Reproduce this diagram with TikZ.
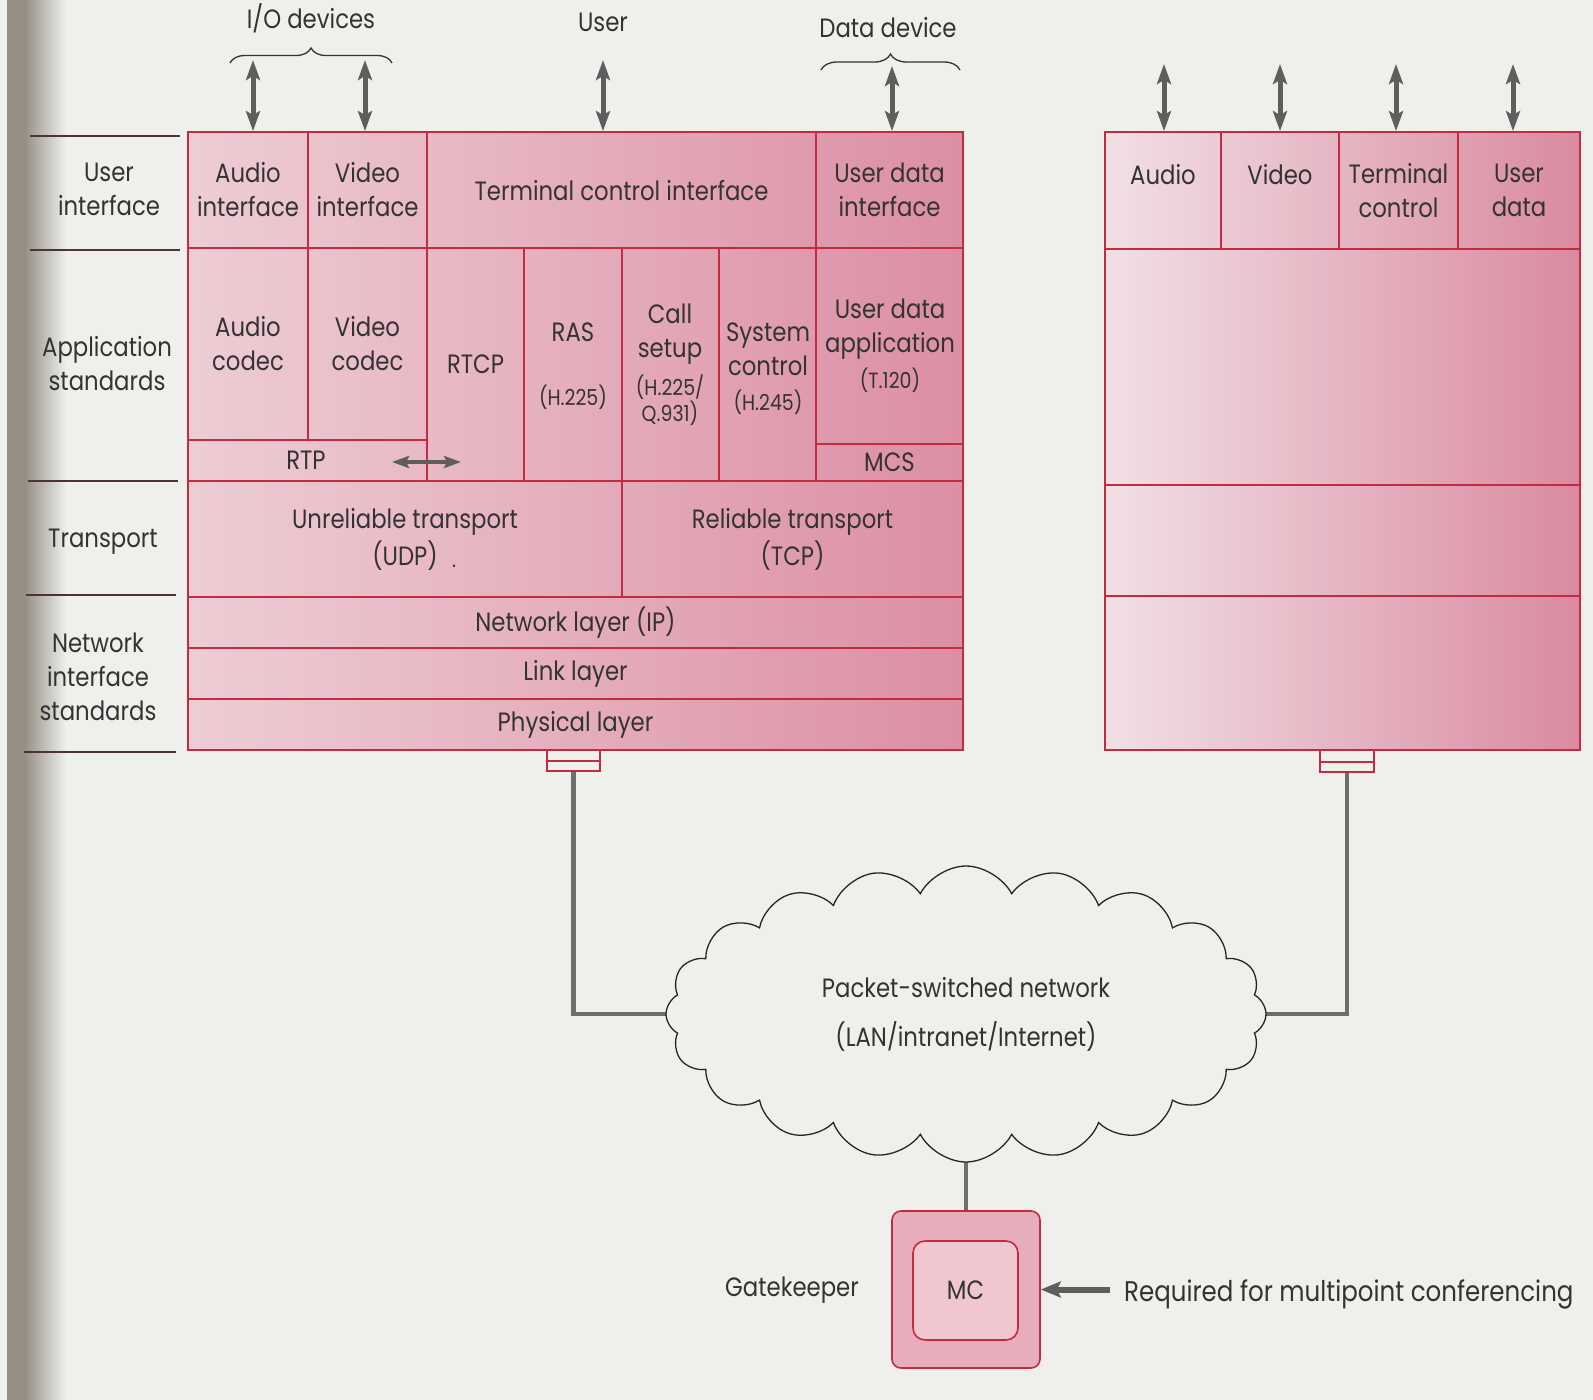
\documentclass[tikz,border=0pt]{standalone}
\usepackage{fontspec}
\setmainfont{Poppins}[FakeStretch=0.86]
\usetikzlibrary{arrows.meta,shapes.symbols,decorations.pathreplacing,calc}

\definecolor{paper}{HTML}{EFEFEC}
\definecolor{gutter}{HTML}{948E84}
\definecolor{rule}{HTML}{C42A40}
\definecolor{pinkL}{HTML}{EDCDD5}
\definecolor{pinkR}{HTML}{DC8EA4}
\definecolor{pinkLL}{HTML}{F1E0E4}
\definecolor{pinkRR}{HTML}{DA8AA1}
\definecolor{gkpink}{HTML}{E8ADBD}
\definecolor{mcpink}{HTML}{F0C6D0}
\definecolor{ink}{HTML}{333333}
\definecolor{sepink}{HTML}{4A3535}
\definecolor{arrowgray}{HTML}{5E5E5E}
\definecolor{wiregray}{HTML}{6E6E6E}

\newcommand\bigtext{\fontsize{26.5}{34}\selectfont}
\newcommand\smalltext{\fontsize{22}{24}\selectfont}
% cell: name, x1, y1, x2, y2, text (page coordinates, y downwards)
\newcommand\cellat[6]{\node[cell, minimum width={(#4-#2)*1pt}, minimum height={(#5-#3)*1pt}] (#1) at ({(#2+#4)/2},{(#3+#5)/2}) {#6};}

\pgfdeclarelayer{paperlayer}
\pgfdeclarelayer{wirelayer}
\pgfsetlayers{paperlayer,wirelayer,main}

\begin{document}
\begin{tikzpicture}[x=1pt,y=-1pt,
  cell/.style={draw=rule, line width=1.8pt, inner sep=0pt, align=center, text=ink, font=\bigtext},
  lbl/.style={inner sep=0pt, align=center, text=ink, font=\bigtext},
  sml/.style={inner sep=0pt, align=center, text=ink, font=\smalltext},
  devarrow/.style={draw=arrowgray, line width=5pt, {Stealth[length=20pt,width=14pt,inset=4pt]}-{Stealth[length=20pt,width=14pt,inset=4pt]}},
  rtparrow/.style={draw=arrowgray, line width=4pt, {Stealth[length=17pt,width=12pt,inset=3pt]}-{Stealth[length=17pt,width=12pt,inset=3pt]}},
  reqarrow/.style={draw=arrowgray, line width=6pt, -{Stealth[length=20pt,width=16pt,inset=4pt]}},
  wire/.style={draw=wiregray, line width=4.5pt},
  sepline/.style={draw=sepink, line width=1.5pt},
  brc/.style={draw=ink, line width=1.3pt, decorate, decoration={brace, amplitude=#1}},
  plug/.style={draw=rule, line width=1.6pt, fill=paper, inner sep=0pt},
]
\useasboundingbox (0,0) rectangle (1593,1400);

% page and binding shadow
\begin{pgfonlayer}{paperlayer}
  \fill[paper] (0,0) rectangle (1593,1400);
  \fill[gutter] (7,0) rectangle (24,1400);
  \shade[left color=gutter, right color=paper] (24,0) rectangle (66,1400);
\end{pgfonlayer}

% ---------- left terminal stack ----------
\shade[left color=pinkL, right color=pinkR] (188,132) rectangle (963,750);
\cellat{ai}{188}{132}{308}{248}{Audio\\interface}
\cellat{vi}{308}{132}{427}{248}{Video\\interface}
\cellat{tci}{427}{132}{816}{248}{Terminal control interface}
\cellat{udi}{816}{132}{963}{248}{User data\\interface}
\cellat{ac}{188}{248}{308}{440}{Audio\\codec}
\cellat{vc}{308}{248}{427}{440}{Video\\codec}
\cellat{rtp}{188}{440}{427}{481}{}
\cellat{rtcp}{427}{248}{524}{481}{RTCP}
\cellat{ras}{524}{248}{622}{481}{}
\cellat{cs}{622}{248}{719}{481}{}
\cellat{sc}{719}{248}{816}{481}{}
\cellat{uda}{816}{248}{963}{444}{}
\cellat{mcs}{816}{444}{963}{481}{MCS}
\cellat{udp}{188}{481}{622}{597}{Unreliable transport\\[3pt](UDP)}
\cellat{tcp}{622}{481}{963}{597}{Reliable transport\\[3pt](TCP)}
\cellat{net}{188}{597}{963}{648}{Network layer (IP)}
\cellat{link}{188}{648}{963}{699}{Link layer}
\cellat{phy}{188}{699}{963}{750}{Physical layer}

\node[lbl] (rtpT) at (306,460) {RTP};
\node[lbl] (rasT) at (573,332) {RAS};
\node[sml] (rasS) at (573,397) {(H.225)};
\node[lbl] (csT) at (670,334) {Call\\setup};
\node[sml] (csS) at (670,400) {(H.225/\\Q.931)};
\node[lbl] (scT) at (768,349) {System\\control};
\node[sml] (scS) at (768,402) {(H.245)};
\node[lbl] (udaT) at (890,329) {User data\\application};
\node[sml] (udaS) at (890,380) {(T.120)};
\node[sml] (udpdot) at (454,566) {.};

\coordinate (rtpL) at (392,462);
\coordinate (rtpR) at (461,462);
\draw[rtparrow] (rtpL) -- (rtpR);

% layer names on the left
\node[lbl] (lUI) at (109,189) {User\\interface};
\node[lbl] (lApp) at (107,364) {Application\\standards};
\node[lbl] (lTr) at (103,542) {Transport};
\node[lbl] (lNet) at (98,677) {Network\\interface\\standards};
\draw[sepline] (30,136) -- (180,136);
\draw[sepline] (30,250) -- (180,250);
\draw[sepline] (28,481) -- (178,481);
\draw[sepline] (26,595) -- (176,595);
\draw[sepline] (24,752) -- (176,752);

% devices above the left stack
\node[lbl] (io) at (311,18) {I/O devices};
\node[lbl] (usr) at (603,22) {User};
\node[lbl] (dd) at (888,28) {Data device};
\draw[brc=15pt] (230,63) -- (392,63);
\draw[brc=16pt] (821,70) -- (960,70);
\coordinate (ioA) at (253,60);
\coordinate (ioV) at (365,60);
\coordinate (usrA) at (603,60);
\coordinate (ddA) at (892,66);
\draw[devarrow] (ioA) -- (ioA |- ai.north);
\draw[devarrow] (ioV) -- (ioV |- vi.north);
\draw[devarrow] (usrA) -- (usrA |- tci.north);
\draw[devarrow] (ddA) -- (ddA |- udi.north);

% ---------- right terminal stack ----------
\shade[left color=pinkLL, right color=pinkRR] (1105,132) rectangle (1580,750);
\cellat{ra}{1105}{132}{1221}{249}{}
\cellat{rv}{1221}{132}{1339}{249}{}
\cellat{rt}{1339}{132}{1458}{249}{Terminal\\control}
\cellat{ru}{1458}{132}{1580}{249}{User\\data}
\cellat{rapp}{1105}{249}{1580}{485}{}
\cellat{rtr}{1105}{485}{1580}{596}{}
\cellat{rnet}{1105}{596}{1580}{750}{}
\node[lbl] (raT) at (1163,175) {Audio};
\node[lbl] (rvT) at (1280,175) {Video};
\coordinate (rA) at (1164,64);
\coordinate (rV) at (1280,64);
\coordinate (rT) at (1396,64);
\coordinate (rU) at (1513,64);
\draw[devarrow] (rA) -- (rA |- ra.north);
\draw[devarrow] (rV) -- (rV |- rv.north);
\draw[devarrow] (rT) -- (rT |- rt.north);
\draw[devarrow] (rU) -- (rU |- ru.north);

% ---------- network attachment points ----------
\node[plug, minimum width=53pt, minimum height=11pt] (lplugA) at (573.5,755.5) {};
\node[plug, minimum width=53pt, minimum height=10pt] (lplugB) at (573.5,766) {};
\node[plug, minimum width=54pt, minimum height=12pt] (rplugA) at (1347,756) {};
\node[plug, minimum width=54pt, minimum height=10pt] (rplugB) at (1347,767) {};

% ---------- network cloud and gatekeeper ----------
\node[cloud, draw=black!85, line width=1.3pt, fill=paper, cloud puffs=20, cloud puff arc=125,
      aspect=2, minimum width=600pt, minimum height=296pt, align=center, text=ink, font=\bigtext]
  (cloud) at (966,1014) {Packet-switched network\\[15pt](LAN/intranet/Internet)};

\node[draw=rule, line width=1.6pt, rounded corners=9pt, fill=gkpink,
      minimum width=148pt, minimum height=157pt] (gk) at (966,1289.5) {};
\node[draw=rule, line width=1.6pt, rounded corners=12pt, fill=mcpink,
      minimum width=105pt, minimum height=99pt, text=ink, font=\bigtext] (mc) at (965.5,1290.5) {MC};
\node[lbl] (gkT) at (792,1290) {Gatekeeper};
\node[lbl, anchor=west, font=\fontsize{28.5}{34}\selectfont] (req) at (1124,1294) {Required for multipoint conferencing};
\draw[reqarrow] ($(gk.east)+(69,0)$) -- (gk.east);

\begin{pgfonlayer}{wirelayer}
  \draw[wire] (lplugB.south) |- (cloud.center);
  \draw[wire] (rplugB.south) |- (cloud.center);
  \draw[wire] (cloud.center) -- (gk.north);
\end{pgfonlayer}
\end{tikzpicture}
\end{document}
